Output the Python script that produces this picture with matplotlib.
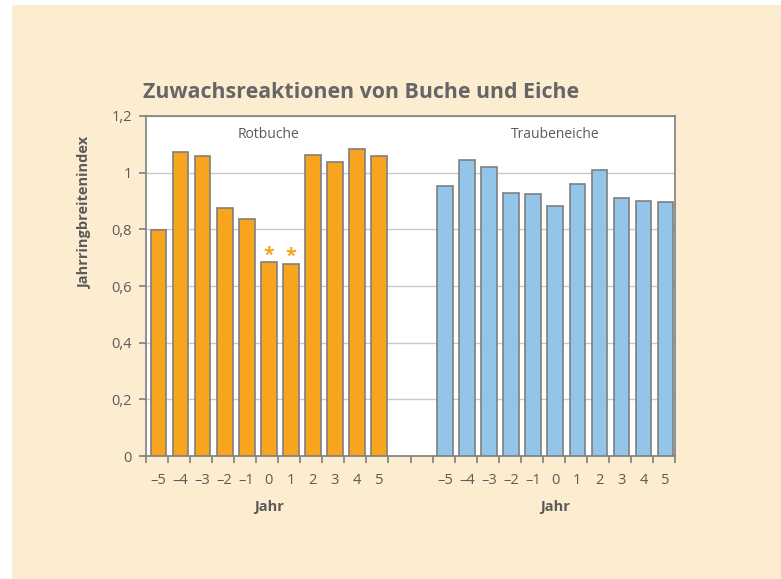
import numpy as np
import matplotlib.pyplot as plt
from matplotlib.patches import Rectangle
from matplotlib.transforms import blended_transform_factory

plt.rcParams['font.family'] = ['Open Sans', 'DejaVu Sans']

jahre = [-5, -4, -3, -2, -1, 0, 1, 2, 3, 4, 5]
rotbuche = [0.797, 1.073, 1.058, 0.875, 0.835, 0.684, 0.678, 1.064, 1.037, 1.083, 1.058]
traubeneiche = [0.952, 1.046, 1.020, 0.927, 0.924, 0.881, 0.960, 1.008, 0.909, 0.900, 0.895]
signifikant = [0, 1]  # years marked with *
yticks = [0, 0.2, 0.4, 0.6, 0.8, 1.0, 1.2]
ylabels = ['0', '0,2', '0,4', '0,6', '0,8', '1', '1,2']

txt = '#5a5a5a'
edge = '#7f7f7f'
cream = '#fdedd0'
orange = '#f7a51e'
blue = '#92c5e8'

fig = plt.figure(figsize=(7.81, 5.79), dpi=100)
fig.patch.set_facecolor('white')
fig.patches.append(Rectangle((12 / 781, 0), 1, 1 - 5 / 579, transform=fig.transFigure,
                             facecolor=cream, edgecolor='none', zorder=-10))

ax = fig.add_axes([146 / 781, 1 - 456 / 579, 529 / 781, 340 / 579])
ax.set_facecolor('white')

gap = 2
shift = 0.07  # bars sit slightly right of slot centre
x_rb = np.arange(len(jahre))
x_te = x_rb + len(jahre) + gap

ax.bar(x_rb + shift, rotbuche, width=0.71, color=orange, edgecolor=edge, linewidth=1.2, zorder=3)
ax.bar(x_te + shift, traubeneiche, width=0.71, color=blue, edgecolor=edge, linewidth=1.2, zorder=3)

for j in signifikant:
    i = jahre.index(j)
    ax.text(x_rb[i] + shift, rotbuche[i] - 0.012, '*', color=orange, ha='center', va='bottom',
            fontsize=14, fontweight='bold')

n = len(x_rb) + len(x_te) + gap
ax.set_xlim(-0.5, n - 0.5)
ax.set_ylim(0, 1.2)

ax.set_yticks(yticks)
ax.set_yticklabels(ylabels)
ax.yaxis.grid(True, color='#c8c8c8', linewidth=1, zorder=0)

ax.set_xticks(np.concatenate([x_rb, x_te]) + shift)
ax.set_xticklabels(['–' + str(-j) if j < 0 else str(j) for j in jahre] * 2)
ax.tick_params(axis='x', which='major', length=0, pad=12)
ax.set_xticks(np.arange(n + 1) - 0.5, minor=True)
ax.tick_params(axis='x', which='minor', length=5, width=1.2, color=edge)
ax.tick_params(axis='y', length=5, width=1.2, color=edge, pad=5)
ax.tick_params(labelsize=10.5, labelcolor=txt)

for s in ax.spines.values():
    s.set_color(edge)
    s.set_linewidth(1.2)

fig.text(85 / 781, 1 - 213 / 579, 'Jahrringbreitenindex', rotation=90, ha='center', va='center',
         fontsize=10.5, fontweight='bold', color=txt)

tr = blended_transform_factory(ax.transData, ax.transAxes)
ax.text(np.mean(x_rb) + shift, -0.15, 'Jahr', transform=tr, ha='center', va='center',
        fontsize=10.5, fontweight='bold', color=txt)
ax.text(np.mean(x_te) + shift, -0.15, 'Jahr', transform=tr, ha='center', va='center',
        fontsize=10.5, fontweight='bold', color=txt)
ax.text(np.mean(x_rb) + shift, 0.945, 'Rotbuche', transform=tr, ha='center', va='center',
        fontsize=10, color=txt)
ax.text(np.mean(x_te) + shift, 0.945, 'Traubeneiche', transform=tr, ha='center', va='center',
        fontsize=10, color=txt)

fig.text(143 / 781, 1 - 93 / 579, 'Zuwachsreaktionen von Buche und Eiche', ha='left', va='center',
         fontsize=15.4, fontweight='bold', color='#666666')

fig.savefig('out.png', dpi=100, facecolor=fig.get_facecolor())
